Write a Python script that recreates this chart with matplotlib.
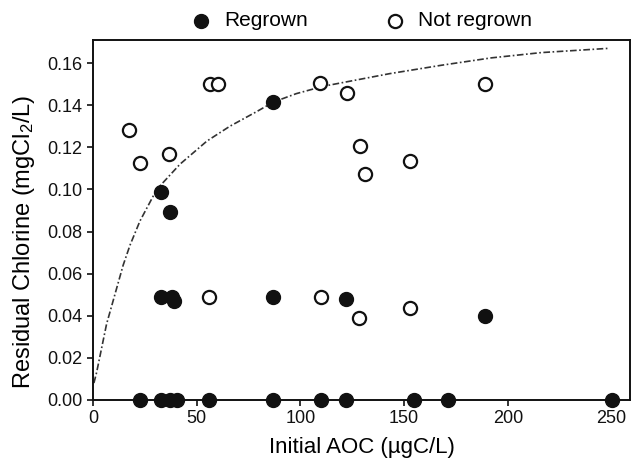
import matplotlib
matplotlib.use("Agg")
import matplotlib.pyplot as plt
from matplotlib.ticker import FormatStrFormatter

plt.rcParams['font.family'] = ['Liberation Sans', 'DejaVu Sans']
plt.rcParams['mathtext.fontset'] = 'custom'
plt.rcParams['mathtext.rm'] = 'Liberation Sans'
plt.rcParams['mathtext.default'] = 'regular'

# regrown samples (filled)
regrown_x = [33, 37, 87, 33, 38, 39, 87, 122, 189,
             22.5, 33, 37, 40.5, 56, 87, 110, 122, 155, 171, 250]
regrown_y = [0.099, 0.0895, 0.1417, 0.049, 0.049, 0.047, 0.049, 0.048, 0.040,
             0, 0, 0, 0, 0, 0, 0, 0, 0, 0, 0]

# not regrown samples (open)
notreg_x = [17.5, 22.7, 36.7, 56.5, 60.5, 109.7, 122.5, 128.7, 131, 153, 189,
            56, 110, 128.5, 153]
notreg_y = [0.128, 0.1125, 0.1167, 0.150, 0.150, 0.1505, 0.1457, 0.1207, 0.1074, 0.1135, 0.150,
            0.049, 0.049, 0.0388, 0.0439]

# fitted curve
curve_x = [0.5, 1.8, 6.6, 10.6, 14.6, 17.9, 22.7, 30.8, 42, 55, 66, 79, 87, 98,
           111, 127, 143, 168, 192, 216, 248]
curve_y = [0.008, 0.013, 0.036, 0.050, 0.064, 0.0735, 0.085, 0.100, 0.112, 0.123,
           0.130, 0.137, 0.1415, 0.1455, 0.149, 0.152, 0.155, 0.159, 0.1625, 0.165, 0.167]

fig = plt.figure(figsize=(6.36, 4.65), dpi=100)
ax = fig.add_axes([0.146, 0.140, 0.845, 0.774])

ax.plot(curve_x, curve_y, color='#333333', lw=1.2, ls=(0, (4, 1.5, 1, 1.5)), zorder=1)
ax.scatter(regrown_x, regrown_y, s=100, c='#111111', edgecolors='#111111',
           linewidths=1, zorder=3, clip_on=False, label='Regrown')
ax.scatter(notreg_x, notreg_y, s=90, facecolors='white', edgecolors='#111111',
           linewidths=1.6, zorder=2, clip_on=False, label='Not regrown')

ax.set_xlim(0, 259)
ax.set_ylim(0, 0.171)
ax.set_xticks([0, 50, 100, 150, 200, 250])
ax.set_yticks([0, 0.02, 0.04, 0.06, 0.08, 0.10, 0.12, 0.14, 0.16])
ax.yaxis.set_major_formatter(FormatStrFormatter('%.2f'))
ax.tick_params(direction='out', length=4, width=1.2, labelsize=13, colors='#111111')

for s in ax.spines.values():
    s.set_linewidth(1.4)
    s.set_color('#111111')

ax.set_xlabel('Initial AOC (µgC/L)', fontsize=16, labelpad=7)
ax.set_ylabel('Residual Chlorine (mgCl$_2$/L)', fontsize=17)
ax.yaxis.set_label_coords(-0.104, 0.44)

h, l = ax.get_legend_handles_labels()
fig.legend(h, l, loc='center', bbox_to_anchor=(0.568, 0.955), ncol=2, frameon=False,
           fontsize=15, handlelength=1.0, handletextpad=0.6, columnspacing=3.7,
           borderaxespad=0, borderpad=0)

fig.savefig('out.png', dpi=100)
